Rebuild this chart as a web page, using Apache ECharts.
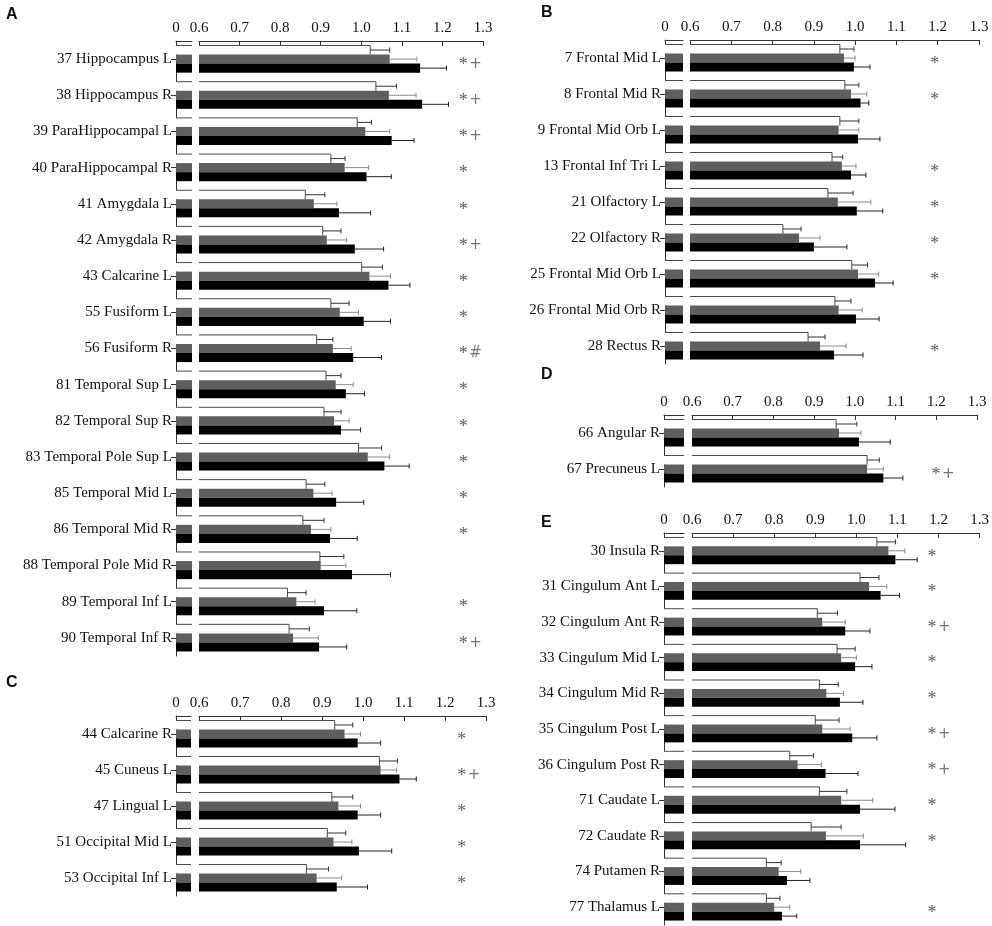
<!DOCTYPE html>
<html>
<head>
<meta charset="utf-8">
<script src="https://cdn.jsdelivr.net/npm/echarts@6/dist/echarts.min.js"></script>
<style>
html, body { margin: 0; padding: 0; background: #fff; }
#main { width: 992px; height: 926px; }
</style>
</head>
<body>
<div id="main"></div>
<script>
// panel A
var regionsA = ['37 Hippocampus L', '38 Hippocampus R', '39 ParaHippocampal L', '40 ParaHippocampal R', '41 Amygdala L', '42 Amygdala R', '43 Calcarine L', '55 Fusiform L', '56 Fusiform R', '81 Temporal Sup L', '82 Temporal Sup R', '83 Temporal Pole Sup L', '85 Temporal Mid L', '86 Temporal Mid R', '88 Temporal Pole Mid R', '89 Temporal Inf L', '90 Temporal Inf R'];
var whiteA = [1.022, 1.036, 0.99, 0.925, 0.862, 0.905, 1.001, 0.925, 0.89, 0.913, 0.908, 0.993, 0.864, 0.856, 0.898, 0.818, 0.822];
var whiteErrA = [0.048, 0.051, 0.035, 0.035, 0.048, 0.045, 0.051, 0.045, 0.04, 0.037, 0.042, 0.057, 0.046, 0.052, 0.059, 0.046, 0.05];
var grayA = [1.07, 1.068, 1.01, 0.959, 0.883, 0.915, 1.02, 0.947, 0.93, 0.937, 0.933, 1.016, 0.882, 0.876, 0.9, 0.84, 0.832];
var grayErrA = [0.067, 0.067, 0.06, 0.059, 0.057, 0.049, 0.052, 0.046, 0.045, 0.043, 0.037, 0.054, 0.046, 0.049, 0.062, 0.046, 0.062];
var blackA = [1.145, 1.15, 1.075, 1.013, 0.945, 0.984, 1.067, 1.006, 0.98, 0.962, 0.95, 1.057, 0.938, 0.923, 0.977, 0.908, 0.896];
var blackErrA = [0.065, 0.065, 0.055, 0.061, 0.078, 0.071, 0.053, 0.066, 0.07, 0.046, 0.048, 0.061, 0.068, 0.067, 0.095, 0.081, 0.068];
var marksA = ['* +', '* +', '* +', '*', '*', '* +', '*', '*', '* #', '*', '*', '*', '*', '*', '', '*', '* +'];

// panel B
var regionsB = ['7 Frontal Mid L', '8 Frontal Mid R', '9 Frontal Mid Orb L', '13 Frontal Inf Tri L', '21 Olfactory L', '22 Olfactory R', '25 Frontal Mid Orb L', '26 Frontal Mid Orb R', '28 Rectus R'];
var whiteB = [0.963, 0.975, 0.963, 0.944, 0.934, 0.825, 0.992, 0.951, 0.886];
var whiteErrB = [0.034, 0.034, 0.046, 0.026, 0.061, 0.044, 0.038, 0.039, 0.041];
var grayB = [0.973, 0.99, 0.96, 0.968, 0.958, 0.864, 1.007, 0.96, 0.915];
var grayErrB = [0.027, 0.038, 0.049, 0.034, 0.08, 0.051, 0.05, 0.057, 0.063];
var blackB = [0.997, 1.013, 1.007, 0.99, 1.004, 0.9, 1.048, 1.002, 0.949];
var blackErrB = [0.039, 0.02, 0.053, 0.036, 0.063, 0.08, 0.044, 0.056, 0.07];
var marksB = ['*', '*', '', '*', '*', '*', '*', '', '*'];

// panel C
var regionsC = ['44 Calcarine R', '45 Cuneus L', '47 Lingual L', '51 Occipital Mid L', '53 Occipital Inf L'];
var whiteC = [0.931, 1.04, 0.924, 0.913, 0.862];
var whiteErrC = [0.044, 0.044, 0.051, 0.045, 0.054];
var grayC = [0.955, 1.043, 0.94, 0.928, 0.887];
var grayErrC = [0.039, 0.039, 0.054, 0.045, 0.061];
var blackC = [0.987, 1.089, 0.987, 0.99, 0.936];
var blackErrC = [0.056, 0.041, 0.056, 0.08, 0.075];
var marksC = ['*', '* +', '*', '*', '*'];

// panel D
var regionsD = ['66 Angular R', '67 Precuneus L'];
var whiteD = [0.954, 1.03];
var whiteErrD = [0.051, 0.03];
var grayD = [0.961, 1.03];
var grayErrD = [0.054, 0.04];
var blackD = [1.01, 1.07];
var blackErrD = [0.077, 0.048];
var marksD = ['', '* +'];

// panel E
var regionsE = ['30 Insula R', '31 Cingulum Ant L', '32 Cingulum Ant R', '33 Cingulum Mid L', '34 Cingulum Mid R', '35 Cingulum Post L', '36 Cingulum Post R', '71 Caudate L', '72 Caudate R', '74 Putamen R', '77 Thalamus L'];
var whiteE = [1.05, 1.009, 0.905, 0.953, 0.91, 0.9, 0.838, 0.91, 0.89, 0.781, 0.781];
var whiteErrE = [0.045, 0.046, 0.049, 0.044, 0.046, 0.058, 0.058, 0.067, 0.073, 0.036, 0.033];
var grayE = [1.078, 1.031, 0.917, 0.963, 0.927, 0.917, 0.857, 0.963, 0.926, 0.811, 0.8];
var grayErrE = [0.04, 0.043, 0.056, 0.037, 0.042, 0.068, 0.058, 0.077, 0.091, 0.054, 0.038];
var blackE = [1.095, 1.059, 0.973, 0.997, 0.96, 0.99, 0.925, 1.009, 1.009, 0.831, 0.819];
var blackErrE = [0.053, 0.046, 0.06, 0.041, 0.056, 0.06, 0.079, 0.085, 0.111, 0.056, 0.036];
var marksE = ['*', '*', '* +', '*', '*', '* +', '* +', '*', '*', '', '*'];

// axis: short piece 0..0.04, then break, then 0.6..1.3
var smallMax = 0.04;
var mainMin = 0.6, mainMax = 1.3, mainStep = 0.1;

var serif = 'Liberation Serif, Times New Roman, serif';
var fills = ['#ffffff', '#5f5f5f', '#000000'];
var errColors = ['#333333', '#8a8a8a', '#222222'];
var barFrac = 0.25;

var chart = echarts.init(document.getElementById('main'));
var option = {
    backgroundColor: '#fff',
    animation: false,
    grid: [], xAxis: [], yAxis: [], series: [],
    graphic: []
};

// outline of the white bar: top edge, and on the main part also its end
function outlineItem(isSmall) {
    return function (params, api) {
        var v = api.value(0), idx = api.value(1);
        var band = api.size([0, 1])[1];
        var c = api.coord([isSmall ? 0 : mainMin, idx]);
        var top = c[1] - band * barFrac * 1.5;
        var bottom = c[1] - band * barFrac * 0.5;
        var style = {stroke: '#4a4a4a', lineWidth: 1, fill: null};
        if (isSmall) {
            var r = api.coord([smallMax, idx]);
            return {type: 'line', shape: {x1: c[0], y1: top, x2: r[0], y2: top}, style: style};
        }
        var e = api.coord([v, idx]);
        return {type: 'polyline', shape: {points: [[c[0], top], [e[0], top], [e[0], bottom]]}, style: style};
    };
}

function addPanel(p) {
    var g = option.grid.length;
    // small grid (0 part) and main grid
    option.grid.push({left: p.sLeft, top: p.top, width: p.sWidth, height: p.height});
    option.grid.push({left: p.mLeft, top: p.top, width: p.mWidth, height: p.height});

    var axisLine = {show: true, lineStyle: {color: '#333', width: 1}};
    option.xAxis.push({
        gridIndex: g, type: 'value', position: 'top', min: 0, max: smallMax, interval: smallMax,
        axisLine: axisLine,
        axisTick: {show: true, inside: true, length: 5, lineStyle: {color: '#333'}},
        axisLabel: {show: true, fontFamily: serif, fontSize: 15, color: '#111', margin: 5,
            showMaxLabel: false,
            formatter: function (v) { return v === 0 ? '0' : ''; }},
        splitLine: {show: false}
    });
    option.xAxis.push({
        gridIndex: g + 1, type: 'value', position: 'top', min: mainMin, max: mainMax, interval: mainStep,
        axisLine: axisLine,
        axisTick: {show: true, inside: true, length: 5, lineStyle: {color: '#333'}},
        axisLabel: {fontFamily: serif, fontSize: 15, color: '#111', margin: 5,
            showMinLabel: true, showMaxLabel: true,
            formatter: function (v) { return v.toFixed(1); }},
        splitLine: {show: false}
    });
    option.yAxis.push({
        gridIndex: g, type: 'category', inverse: true, data: p.regions,
        axisLine: {show: true, onZero: false, lineStyle: {color: '#333', width: 1}},
        axisTick: {show: true, alignWithLabel: true, length: 5, lineStyle: {color: '#333'}},
        axisLabel: {fontFamily: serif, fontSize: 15, color: '#111', margin: 4}
    });
    option.yAxis.push({
        gridIndex: g + 1, type: 'category', inverse: true, data: p.regions,
        axisLine: {show: false}, axisTick: {show: false}, axisLabel: {show: false}
    });

    var vals = [p.white, p.gray, p.black];
    var errs = [p.whiteErr, p.grayErr, p.blackErr];
    [g, g + 1].forEach(function (gi) {
        vals.forEach(function (arr, k) {
            option.series.push({
                type: 'bar', xAxisIndex: gi, yAxisIndex: gi, data: arr,
                barWidth: (barFrac * 100) + '%', barGap: '0%', clip: true,
                itemStyle: {color: fills[k], borderWidth: 0}
            });
        });
        option.series.push({
            type: 'custom', xAxisIndex: gi, yAxisIndex: gi, clip: false, z: 4,
            data: p.white.map(function (v, i) { return [v, i]; }),
            renderItem: outlineItem(gi === g)
        });
    });
    vals.forEach(function (arr, k) {
        option.series.push({
            type: 'custom', xAxisIndex: g + 1, yAxisIndex: g + 1, clip: true, z: 5,
            data: arr.map(function (v, i) { return [v, i, errs[k][i]]; }),
            renderItem: function (params, api) {
                var v = api.value(0), idx = api.value(1), e = api.value(2);
                var band = api.size([0, 1])[1];
                var off = (k - 1) * band * barFrac;
                var a = api.coord([v, idx]);
                var b = api.coord([v + e, idx]);
                var y = a[1] + off;
                var style = {stroke: errColors[k], lineWidth: 1};
                return {type: 'group', children: [
                    {type: 'line', shape: {x1: a[0], y1: y, x2: b[0], y2: y}, style: style},
                    {type: 'line', shape: {x1: b[0], y1: y - 2.5, x2: b[0], y2: y + 2.5}, style: style}
                ]};
            }
        });
    });
    option.series.push({
        type: 'scatter', xAxisIndex: g + 1, yAxisIndex: g + 1, symbolSize: 0, z: 6,
        data: p.marks.map(function (m, i) { return [p.markX, i, m]; }),
        label: {
            show: true, position: 'inside', align: 'left', offset: [0, 6],
            formatter: function (d) {
                var m = d.value[2];
                if (!m) return '';
                var parts = m.split(' ');
                return '{s|' + parts[0] + '}' + (parts[1] ? '{gap| }{p|' + parts[1] + '}' : '');
            },
            rich: {
                s: {fontFamily: serif, fontSize: 18, color: '#333'},
                gap: {fontFamily: serif, fontSize: 6},
                p: {fontFamily: 'DejaVu Sans', fontSize: 15, color: '#555', padding: [0, 0, 2, 0]}
            }
        }
    });
    option.graphic.push({
        type: 'text', left: p.letterX, top: p.letterY,
        style: {text: p.letter, font: 'bold 16px Liberation Sans, Arial, sans-serif', fill: '#111'}
    });
}

addPanel({letter: 'A', letterX: 6, letterY: 7, regions: regionsA,
    white: whiteA, whiteErr: whiteErrA, gray: grayA, grayErr: grayErrA, black: blackA, blackErr: blackErrA,
    marks: marksA, markX: 1.24, sLeft: 176, sWidth: 16, mLeft: 199, mWidth: 284, top: 41, height: 615});
addPanel({letter: 'B', letterX: 541, letterY: 5, regions: regionsB,
    white: whiteB, whiteErr: whiteErrB, gray: grayB, grayErr: grayErrB, black: blackB, blackErr: blackErrB,
    marks: marksB, markX: 1.182, sLeft: 665, sWidth: 18, mLeft: 690, mWidth: 289, top: 40, height: 324});
addPanel({letter: 'C', letterX: 6, letterY: 675, regions: regionsC,
    white: whiteC, whiteErr: whiteErrC, gray: grayC, grayErr: grayErrC, black: blackC, blackErr: blackErrC,
    marks: marksC, markX: 1.23, sLeft: 176, sWidth: 15, mLeft: 199, mWidth: 287, top: 716, height: 180});
addPanel({letter: 'D', letterX: 541, letterY: 367, regions: regionsD,
    white: whiteD, whiteErr: whiteErrD, gray: grayD, grayErr: grayErrD, black: blackD, blackErr: blackErrD,
    marks: marksD, markX: 1.188, sLeft: 664, sWidth: 20, mLeft: 692, mWidth: 285, top: 415, height: 72});
addPanel({letter: 'E', letterX: 541, letterY: 515, regions: regionsE,
    white: whiteE, whiteErr: whiteErrE, gray: grayE, grayErr: grayErrE, black: blackE, blackErr: blackErrE,
    marks: marksE, markX: 1.173, sLeft: 664, sWidth: 20, mLeft: 692, mWidth: 291, top: 533, height: 392});

chart.setOption(option);
</script>
</body>
</html>
